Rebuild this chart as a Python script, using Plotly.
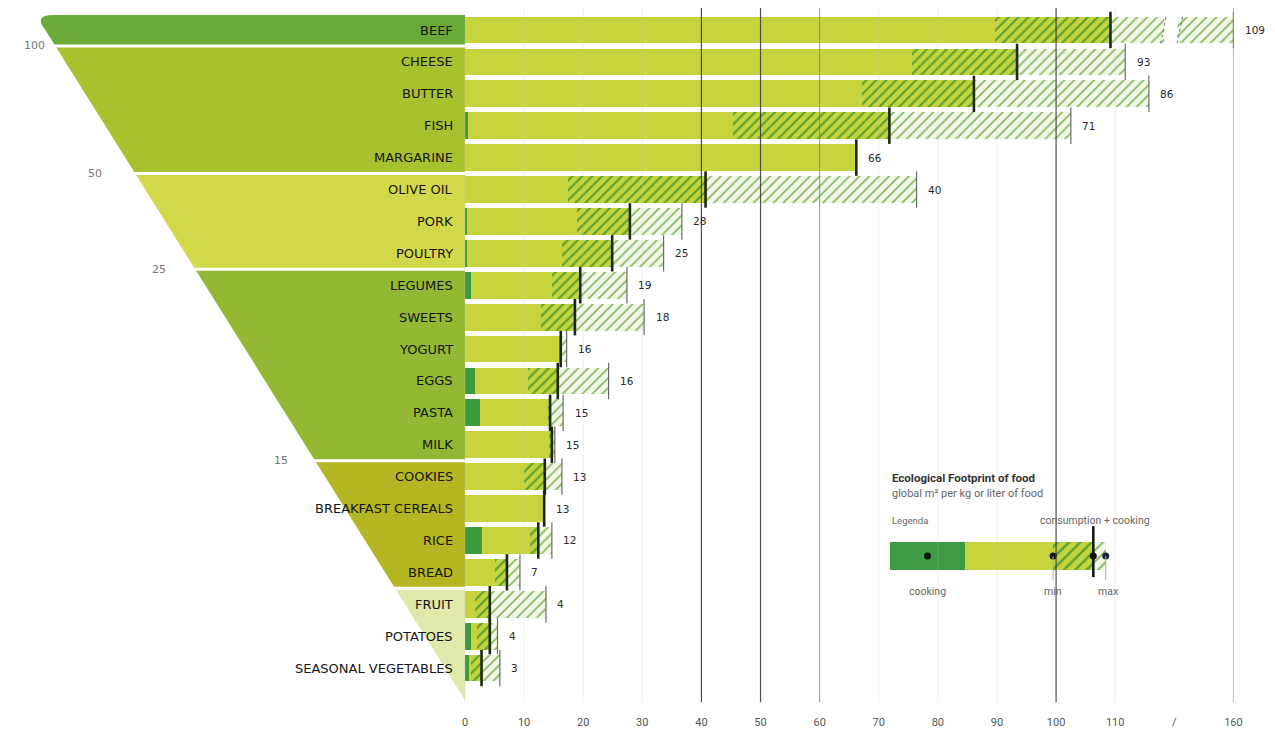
import plotly.graph_objects as go

# ---------------- data ----------------
categories = ["BEEF", "CHEESE", "BUTTER", "FISH", "MARGARINE", "OLIVE OIL", "PORK",
              "POULTRY", "LEGUMES", "SWEETS", "YOGURT", "EGGS", "PASTA", "MILK",
              "COOKIES", "BREAKFAST CEREALS", "RICE", "BREAD", "FRUIT", "POTATOES",
              "SEASONAL VEGETABLES"]
cooking = [0, 0, 0, 0.5, 0, 0, 0.4, 0.4, 1.1, 0, 0, 1.7, 2.5, 0, 0, 0, 2.9, 0, 0, 1.1, 0.8]
min_fp = [89.7, 75.6, 67.1, 45.3, 66.2, 17.4, 18.9, 16.4, 14.7, 12.9, 16.2, 10.6, 14.0,
          14.2, 9.9, 13.4, 11.0, 5.1, 1.7, 2.0, 1.1]
mean_fp = [109.2, 93.4, 86.1, 71.8, 66.2, 40.7, 27.9, 24.9, 19.5, 18.6, 16.2, 15.7, 14.4,
           14.7, 13.5, 13.4, 12.4, 7.1, 4.2, 4.2, 2.8]
max_fp = [160, 111.7, 115.7, 102.5, 66.2, 76.4, 36.7, 33.6, 27.4, 30.3, 17.2, 24.3, 16.6,
          15.2, 16.4, 13.4, 14.7, 9.3, 13.7, 5.5, 5.9]
value_labels = ["109", "93", "86", "71", "66", "40", "28", "25", "19", "18", "16", "16",
                "15", "15", "13", "13", "12", "7", "4", "4", "3"]

axis_ticks = [0, 10, 20, 30, 40, 50, 60, 70, 80, 90, 100, 110, 160]
pyramid_ticks = ["100", "50", "25", "15"]
group_breaks = [0, 1, 5, 8, 14, 18, 21]   # first row index of each pyramid group
group_colors = ["#6aaa3a", "#a8c12e", "#d3d74a", "#93b833", "#b5b623", "#e0e8aa"]

legend_edges = [71.9, 84.6, 99.5, 106.3, 108.4]   # cooking | min | mean | max


def pos(v):
    """axis break: values above 120 are shifted (160 drawn at 130)."""
    return v if v <= 120 else v - 30


COOK = "#3e9a3e"
SOLID = "#c8d43e"
HATCH_FG = "#5e9e2e"
HATCH_BG = "#c2d43e"
LIGHT_FG = "#86bb62"
LIGHT_BG = "#f3f7e8"
FONT = "Roboto"
LABEL_FONT = "DejaVu Sans"

n = len(categories)
rows = list(range(n))
BW = 0.84

fig = go.Figure()

# bars
fig.add_bar(y=rows, x=cooking, base=[0] * n, orientation="h", width=BW,
            marker=dict(color=COOK, line_width=0), hoverinfo="skip")
fig.add_bar(y=rows, x=[m - c for m, c in zip(min_fp, cooking)], base=cooking,
            orientation="h", width=BW, marker=dict(color=SOLID, line_width=0),
            hoverinfo="skip")
fig.add_bar(y=rows, x=[me - mn for me, mn in zip(mean_fp, min_fp)], base=min_fp,
            orientation="h", width=BW,
            marker=dict(color=HATCH_BG, line_width=0,
                        pattern=dict(shape="/", fgcolor=HATCH_FG, bgcolor=HATCH_BG,
                                     fillmode="replace", size=7, solidity=0.3)),
            hoverinfo="skip")
fig.add_bar(y=rows, x=[pos(mx) - me for mx, me in zip(max_fp, mean_fp)], base=mean_fp,
            orientation="h", width=BW,
            marker=dict(color=LIGHT_BG, line_width=0,
                        pattern=dict(shape="/", fgcolor=LIGHT_FG, bgcolor=LIGHT_BG,
                                     fillmode="replace", size=7, solidity=0.25)),
            hoverinfo="skip")

# max ticks
mx_rows = [i for i in rows if max_fp[i] > mean_fp[i]]
fig.add_scatter(x=[pos(max_fp[i]) for i in mx_rows], y=mx_rows, mode="markers",
                marker=dict(symbol="line-ns", size=26, line=dict(width=1.2, color="#6b6b6b")),
                hoverinfo="skip")
# mean ticks
fig.add_scatter(x=mean_fp, y=rows, mode="markers",
                marker=dict(symbol="line-ns", size=26, line=dict(width=2.6, color="#1c2812")),
                hoverinfo="skip")

shapes = []

# pyramid
def edge(yv):
    return -71.0 * (1 - yv / 21.0)

TOP = -0.47
bounds = [TOP] + [b - 0.5 for b in group_breaks[1:-1]] + [21.0]
for g in range(len(group_colors)):
    y0, y1 = bounds[g], bounds[g + 1]
    if g == 0:
        path = (f"M {edge(TOP) + 3.0},{TOP} L 0,{TOP} L 0,{y1} L {edge(y1)},{y1} "
                f"L {edge(TOP + 0.45)},{TOP + 0.45} Q {edge(TOP) - 0.4},{TOP} {edge(TOP) + 3.0},{TOP} Z")
    else:
        path = f"M {edge(y0)},{y0} L 0,{y0} L 0,{y1} L {edge(y1)},{y1} Z"
    shapes.append(dict(type="path", path=path, fillcolor=group_colors[g],
                       line=dict(width=0), layer="below"))
for b in bounds[1:-1]:
    shapes.append(dict(type="line", x0=edge(b) - 1, x1=0, y0=b, y1=b,
                       line=dict(color="white", width=3), layer="below"))

# gridlines
for t in axis_ticks:
    p = pos(t)
    if t in (40, 50, 100):
        col, w = "rgba(60,60,60,0.9)", 1.2
    elif t == 60:
        col, w = "rgba(120,120,120,0.75)", 1
    elif t == 160:
        col, w = "rgba(160,160,160,0.7)", 1
    else:
        col, w = "rgba(200,200,200,0.25)", 1
    shapes.append(dict(type="line", x0=p, x1=p, y0=-0.69, y1=21.07,
                       line=dict(color=col, width=w), layer="above"))

# axis break on the beef bar
shapes.append(dict(type="rect", x0=118.3, x1=120.5, y0=-0.45, y1=0.45,
                   fillcolor="white", line=dict(width=0), layer="above"))
for xb in (117.7, 120.5):
    shapes.append(dict(type="line", x0=xb, x1=xb + 0.9, y0=0.42, y1=-0.42,
                       line=dict(color="#777", width=1, dash="dot"), layer="above"))

# legend box
LY = 16.49
LW = 0.88
fig.add_bar(y=[LY], x=[legend_edges[1] - legend_edges[0]], base=[legend_edges[0]],
            orientation="h", width=LW, marker=dict(color="#3f9a45", line_width=0),
            hoverinfo="skip")
fig.add_bar(y=[LY], x=[legend_edges[2] - legend_edges[1]], base=[legend_edges[1]],
            orientation="h", width=LW, marker=dict(color=SOLID, line_width=0),
            hoverinfo="skip")
fig.add_bar(y=[LY], x=[legend_edges[3] - legend_edges[2]], base=[legend_edges[2]],
            orientation="h", width=LW,
            marker=dict(color=HATCH_BG, line_width=0,
                        pattern=dict(shape="/", fgcolor=HATCH_FG, bgcolor=HATCH_BG,
                                     fillmode="replace", size=8, solidity=0.3)),
            hoverinfo="skip")
fig.add_bar(y=[LY], x=[legend_edges[4] - legend_edges[3]], base=[legend_edges[3]],
            orientation="h", width=LW,
            marker=dict(color=LIGHT_BG, line_width=0,
                        pattern=dict(shape="/", fgcolor=LIGHT_FG, bgcolor=LIGHT_BG,
                                     fillmode="replace", size=8, solidity=0.25)),
            hoverinfo="skip")
cook_mid = (legend_edges[0] + legend_edges[1]) / 2
shapes.append(dict(type="line", x0=legend_edges[3], x1=legend_edges[3], y0=15.55, y1=17.15,
                   line=dict(color="#111", width=2.5), layer="above"))
for xx in (legend_edges[2], legend_edges[4]):
    shapes.append(dict(type="line", x0=xx, x1=xx, y0=LY, y1=17.25,
                       line=dict(color="#aaa", width=1), layer="above"))
fig.add_scatter(x=[cook_mid, legend_edges[2], legend_edges[3], legend_edges[4]],
                y=[LY] * 4, mode="markers",
                marker=dict(size=7, color=["#111", "#111", "#111", "#1c2240"]),
                hoverinfo="skip")

annotations = []
for i, c in enumerate(categories):
    annotations.append(dict(x=-1.7, y=i, text=c, xanchor="right", yanchor="middle",
                            showarrow=False,
                            font=dict(family=LABEL_FONT, size=13, color="#151515")))
for i, lab in enumerate(value_labels):
    annotations.append(dict(x=pos(max_fp[i]) + 1.6, y=i, text=lab, xanchor="left",
                            yanchor="middle", showarrow=False,
                            font=dict(family=LABEL_FONT, size=10.5, color="#2a2a2a")))

pt_pos = [(-70.7, 0.47), (-61.1, 4.5), (-50.3, 7.5), (-29.6, 13.5)]
for (px, py), t in zip(pt_pos, pyramid_ticks):
    annotations.append(dict(x=px, y=py, text=t, xanchor="right", yanchor="middle",
                            showarrow=False,
                            font=dict(family=LABEL_FONT, size=11, color="#777")))

annotations += [
    dict(x=legend_edges[0], y=14.04, text="<b>Ecological Footprint of food</b>",
         xanchor="left", yanchor="middle", showarrow=False,
         font=dict(family=FONT, size=11.5, color="#333")),
    dict(x=legend_edges[0], y=14.52, text="global m² per kg or liter of food",
         xanchor="left", yanchor="middle", showarrow=False,
         font=dict(family=FONT, size=11, color="#666")),
    dict(x=legend_edges[0], y=15.36, text="Legenda", xanchor="left", yanchor="middle",
         showarrow=False, font=dict(family=FONT, size=9.5, color="#666")),
    dict(x=legend_edges[3] + 0.3, y=15.36, text="consumption + cooking", xanchor="center",
         yanchor="middle", showarrow=False, font=dict(family=FONT, size=10.5, color="#666")),
    dict(x=cook_mid, y=17.6, text="cooking", xanchor="center", yanchor="middle",
         showarrow=False, font=dict(family=FONT, size=10.5, color="#666")),
    dict(x=legend_edges[2], y=17.6, text="min", xanchor="center", yanchor="middle",
         showarrow=False, font=dict(family=FONT, size=10.5, color="#666")),
    dict(x=legend_edges[4] + 0.3, y=17.6, text="max", xanchor="center", yanchor="middle",
         showarrow=False, font=dict(family=FONT, size=10.5, color="#666")),
]

tickvals = [pos(t) for t in axis_ticks[:-1]] + [120, pos(axis_ticks[-1])]
ticktext = [str(t) for t in axis_ticks[:-1]] + ["/", str(axis_ticks[-1])]

fig.update_layout(
    width=1275, height=735,
    margin=dict(l=0, r=0, t=0, b=29),
    barmode="overlay",
    bargap=0,
    showlegend=False,
    plot_bgcolor="white",
    paper_bgcolor="white",
    shapes=shapes,
    annotations=annotations,
    font=dict(family=FONT),
    xaxis=dict(range=[-77.31, 138.39], tickvals=tickvals, ticktext=ticktext,
               showgrid=False, zeroline=False, showline=False, ticks="",
               tickfont=dict(family=FONT, size=11, color="#555"), fixedrange=True),
    yaxis=dict(range=[21.44, -0.69], visible=False, fixedrange=True),
)

fig.write_html("out.html")
